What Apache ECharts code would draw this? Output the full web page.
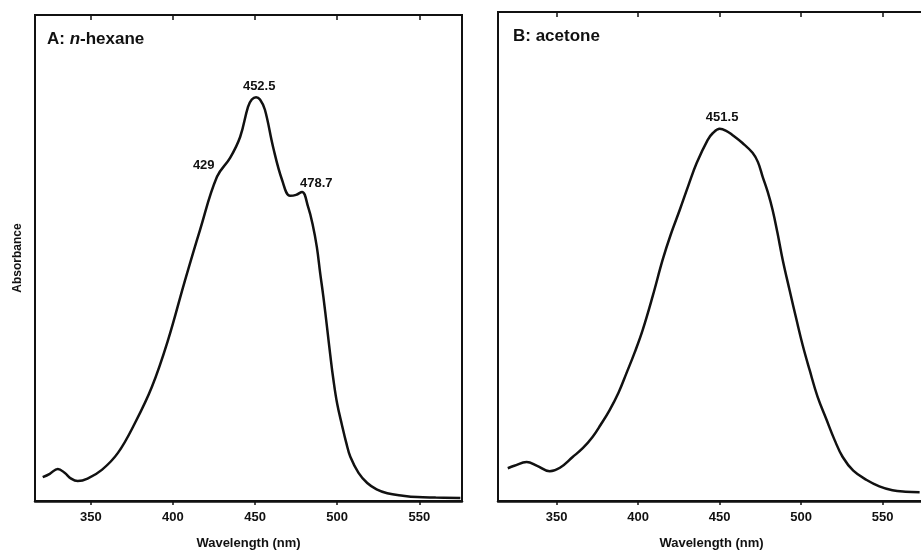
<!DOCTYPE html>
<html>
<head>
<meta charset="utf-8">
<title>Absorbance spectra</title>
<script src="https://cdn.jsdelivr.net/npm/echarts@6/dist/echarts.min.js"></script>
<style>
  html, body { margin: 0; padding: 0; background: #fff; }
  #chart { width: 921px; height: 551px; }
</style>
</head>
<body>
<div id="chart"></div>
<script>
// wavelength ticks (nm)
const xTicks = [350, 400, 450, 500, 550];

// A: n-hexane
const hexaneWl = [320.7, 325, 329.9, 334, 338, 342, 348, 356.7, 366.5, 376.8, 387.2, 397, 407, 416.5,
  426.8, 434.8, 440.9, 445.7, 448, 450.6, 453, 456, 461, 466.5, 471.3, 475, 478.6, 482.3, 485, 487.6, 489.6,
  491.6, 493.9, 495.8, 497.6, 500, 503, 505.5, 508, 513, 518.3, 524, 530.5, 540, 548.8, 560, 575];
const hexaneAbs = [0.049, 0.056, 0.066, 0.058, 0.046, 0.041, 0.046, 0.064, 0.099, 0.160, 0.235, 0.331, 0.450, 0.558,
  0.667, 0.706, 0.749, 0.811, 0.826, 0.831, 0.826, 0.805, 0.728, 0.660, 0.628, 0.630, 0.636, 0.605, 0.570, 0.523, 0.470,
  0.420, 0.355, 0.300, 0.252, 0.200, 0.155, 0.120, 0.091, 0.058, 0.037, 0.024, 0.016, 0.011, 0.008, 0.007, 0.006];
const hexanePeaks = [429, 452.5, 478.7];

// B: acetone
const acetoneWl = [320, 324, 331.6, 338, 345.7, 352, 359.8, 366, 372, 377, 382.5, 388, 392.9, 398, 402.8, 409,
  415, 420, 425.5, 431, 435.9, 442.6, 446, 450, 454, 458, 464, 470.2, 473.5, 476.4, 479.5, 482.5, 485.5, 488.7,
  493, 497.2, 501, 505.2, 510, 515.6, 520.5, 525.5, 532, 540.2, 548, 556, 564, 572.7];
const acetoneAbs = [0.067, 0.072, 0.080, 0.072, 0.061, 0.068, 0.090, 0.108, 0.131, 0.156, 0.186, 0.222, 0.262, 0.305, 0.350, 0.420,
  0.493, 0.545, 0.595, 0.647, 0.691, 0.738, 0.753, 0.761, 0.757, 0.748, 0.732, 0.712, 0.693, 0.663, 0.632, 0.595, 0.548, 0.493,
  0.430, 0.370, 0.318, 0.268, 0.214, 0.166, 0.125, 0.090, 0.062, 0.043, 0.030, 0.022, 0.019, 0.018];
const acetonePeaks = [451.5];

const font = '"Liberation Sans", Arial, Helvetica, sans-serif';

function pairs(xs, ys) {
  return xs.map((x, i) => [x, ys[i]]);
}

// absorbance at a wavelength
function valueAt(xs, ys, w) {
  for (let i = 1; i < xs.length; i++) {
    if (w <= xs[i]) {
      const t = (w - xs[i - 1]) / (xs[i] - xs[i - 1]);
      return ys[i - 1] + t * (ys[i] - ys[i - 1]);
    }
  }
  return ys[ys.length - 1];
}

function peakMarks(xs, ys, peaks, labelOpts) {
  return peaks.map((p, i) => ({
    name: String(p),
    coord: [p, valueAt(xs, ys, p)],
    label: labelOpts[i],
  }));
}

function bottomAxis(idx, min, max) {
  return {
    type: 'value',
    gridIndex: idx,
    position: 'bottom',
    min: min,
    max: max,
    name: 'Wavelength (nm)',
    nameLocation: 'middle',
    nameGap: 36,
    nameTextStyle: { color: '#111', fontFamily: font, fontWeight: 'bold', fontSize: 13 },
    axisLine: { show: true, lineStyle: { color: '#111', width: 2.5 } },
    axisTick: { show: true, inside: false, length: 4, customValues: xTicks, lineStyle: { color: '#111', width: 1.5 } },
    axisLabel: { show: true, margin: 10, customValues: xTicks, color: '#111', fontFamily: font, fontWeight: 'bold', fontSize: 13 },
    splitLine: { show: false },
  };
}

function topAxis(idx, min, max) {
  return {
    type: 'value',
    gridIndex: idx,
    position: 'top',
    min: min,
    max: max,
    axisLine: { show: false },
    axisTick: { show: true, inside: true, length: 5, customValues: xTicks, lineStyle: { color: '#111', width: 1.5 } },
    axisLabel: { show: false, customValues: xTicks },
    splitLine: { show: false },
  };
}

function yAxis(idx, name) {
  return {
    type: 'value',
    gridIndex: idx,
    min: 0,
    max: 1,
    name: name,
    nameLocation: 'middle',
    nameRotate: 90,
    nameGap: 11,
    nameTextStyle: { color: '#111', fontFamily: font, fontWeight: 'bold', fontSize: 12 },
    axisLine: { show: false },
    axisTick: { show: false },
    axisLabel: { show: false },
    splitLine: { show: false },
  };
}

const peakLabel = { color: '#111', fontFamily: font, fontWeight: 'bold', fontSize: 13 };

const chart = echarts.init(document.getElementById('chart'));
chart.setOption({
  animation: false,
  backgroundColor: '#fff',
  title: [
    {
      left: 42, top: 26,
      text: '{b|A: }{i|n}{b|-hexane}',
      textStyle: {
        rich: {
          b: { fontFamily: font, fontWeight: 'bold', fontSize: 17, color: '#111' },
          i: { fontFamily: font, fontWeight: 'bold', fontStyle: 'italic', fontSize: 17, color: '#111' },
        },
      },
    },
    {
      left: 508, top: 23,
      text: 'B: acetone',
      textStyle: { fontFamily: font, fontWeight: 'bold', fontSize: 17, color: '#111' },
    },
  ],
  grid: [
    { left: 35, top: 15, width: 427, height: 486, outerBoundsMode: 'none', show: true, borderColor: '#111', borderWidth: 2, backgroundColor: 'transparent' },
    { left: 498, top: 12, width: 427, height: 489, outerBoundsMode: 'none', show: true, borderColor: '#111', borderWidth: 2, backgroundColor: 'transparent' },
  ],
  xAxis: [
    bottomAxis(0, 316, 576),
    topAxis(0, 316, 576),
    bottomAxis(1, 314, 576),
    topAxis(1, 314, 576),
  ],
  yAxis: [yAxis(0, 'Absorbance'), yAxis(1, '')],
  series: [
    {
      name: 'n-hexane',
      type: 'line',
      xAxisIndex: 0,
      yAxisIndex: 0,
      data: pairs(hexaneWl, hexaneAbs),
      smooth: 0.4,
      showSymbol: false,
      lineStyle: { color: '#111', width: 2.5 },
      markPoint: {
        symbol: 'circle',
        symbolSize: 0,
        data: peakMarks(hexaneWl, hexaneAbs, hexanePeaks, [
          Object.assign({ show: true, formatter: '{b}', position: 'left', distance: 6, offset: [0, -6] }, peakLabel),
          Object.assign({ show: true, formatter: '{b}', position: 'top', distance: 6 }, peakLabel),
          Object.assign({ show: true, formatter: '{b}', position: 'top', distance: 2, offset: [14, 0] }, peakLabel),
        ]),
      },
    },
    {
      name: 'acetone',
      type: 'line',
      xAxisIndex: 2,
      yAxisIndex: 1,
      data: pairs(acetoneWl, acetoneAbs),
      smooth: 0.4,
      showSymbol: false,
      lineStyle: { color: '#111', width: 2.5 },
      markPoint: {
        symbol: 'circle',
        symbolSize: 0,
        data: peakMarks(acetoneWl, acetoneAbs, acetonePeaks, [
          Object.assign({ show: true, formatter: '{b}', position: 'top', distance: 6 }, peakLabel),
        ]),
      },
    },
  ],
});
</script>
</body>
</html>
